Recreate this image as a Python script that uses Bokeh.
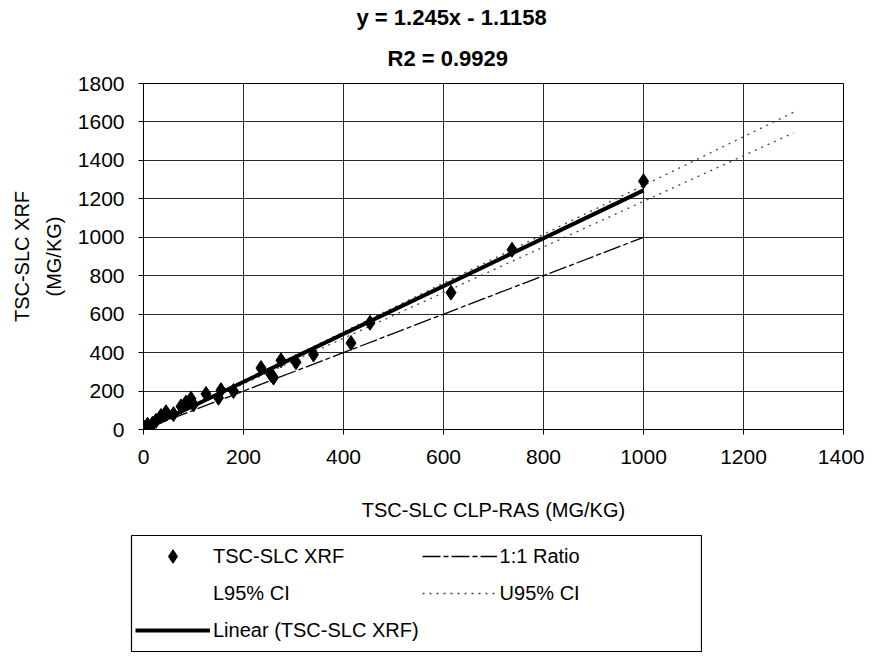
from bokeh.plotting import figure
from bokeh.layouts import column, row
from bokeh.models import Range1d, Title, Legend, LegendItem, FixedTicker, Spacer
from bokeh.embed import file_html
from bokeh.resources import INLINE

# ---- data ----
clp_ras = [3, 8, 12, 18, 25, 35, 45, 60, 75, 85, 95, 100, 125, 150, 155, 180,
           235, 255, 260, 275, 305, 340, 415, 453, 615, 737, 1000]
tsc_xrf = [10, 25, 5, 30, 45, 70, 90, 80, 120, 140, 160, 130, 185, 165, 205, 200,
           320, 285, 270, 360, 350, 390, 450, 555, 712, 935, 1292]
fit_slope = 1.245
fit_intercept = -1.1158
r2 = 0.9929
ratio_x = [0, 1000]
ratio_y = [0, 1000]
ci_x = [0, 1300]
upper_ci = [0, 1650]
lower_ci = [0, 1543]
x_ticks = [0, 200, 400, 600, 800, 1000, 1200, 1400]
y_ticks = [0, 200, 400, 600, 800, 1000, 1200, 1400, 1600, 1800]

FONT = "Liberation Sans"

RATIO_STYLE = dict(line_color="black", line_width=1.3, line_dash="18 3 5 3")
CI_STYLE = dict(line_color="#444444", line_width=1.3, line_dash="2 5")
FIT_STYLE = dict(line_color="black", line_width=4)
PTS_STYLE = dict(marker="diamond", size=15, fill_color="black", line_color="black")

# ---------------- main chart ----------------
p = figure(width=864, height=534,
           x_range=Range1d(0, 1400), y_range=Range1d(0, 1800),
           output_backend="svg", toolbar_location=None,
           min_border_left=143, min_border_right=21, min_border_top=75,
           min_border_bottom=105, background_fill_color="white",
           border_fill_color="white")

p.add_layout(Title(text="R2 = %.4f" % r2, align="left", text_font=FONT,
                   text_font_size="22px", text_font_style="bold",
                   text_color="black", offset=244, standoff=25), "above")
p.add_layout(Title(text="y = %.3fx - %.4f" % (fit_slope, -fit_intercept), align="left",
                   text_font=FONT, text_font_size="22px", text_font_style="bold",
                   text_color="black", offset=213, standoff=4), "above")

p.outline_line_color = "black"
p.outline_line_width = 1

for ax in (p.xaxis[0], p.yaxis[0]):
    ax.major_label_text_font = FONT
    ax.major_label_text_font_size = "21px"
    ax.major_label_text_color = "black"
    ax.axis_label_text_font = FONT
    ax.axis_label_text_font_size = "20px"
    ax.axis_label_text_font_style = "normal"
    ax.axis_label_text_color = "black"
    ax.axis_line_color = "black"
    ax.major_tick_line_color = "black"
    ax.minor_tick_line_color = None
    ax.major_tick_in = 0
    ax.major_tick_out = 5

p.xaxis.ticker = FixedTicker(ticks=x_ticks)
p.yaxis.ticker = FixedTicker(ticks=y_ticks)
p.xaxis.axis_label = "TSC-SLC CLP-RAS (MG/KG)"
p.yaxis.axis_label = "TSC-SLC XRF\n(MG/KG)"
p.yaxis.axis_label_text_line_height = 1.45
p.xaxis.major_label_standoff = 15
p.xaxis.axis_label_standoff = 32
p.yaxis.major_label_standoff = 14
p.yaxis.axis_label_standoff = 10

p.xgrid.grid_line_color = "#2a2a2a"
p.ygrid.grid_line_color = "#2a2a2a"
p.xgrid.grid_line_width = 1
p.ygrid.grid_line_width = 1

fit_x = [min(clp_ras), max(clp_ras)]
fit_y = [fit_slope * v + fit_intercept for v in fit_x]

p.line(ratio_x, ratio_y, **RATIO_STYLE)
p.line(ci_x, lower_ci, **CI_STYLE)
p.line(ci_x, upper_ci, **CI_STYLE)
p.line(fit_x, fit_y, **FIT_STYLE)
p.scatter(clp_ras, tsc_xrf, **PTS_STYLE)

# ---------------- legend panel (below the chart) ----------------
lg = figure(width=572, height=118, x_range=Range1d(-2, -1), y_range=Range1d(-2, -1),
            output_backend="svg", toolbar_location=None,
            x_axis_location=None, y_axis_location=None,
            min_border_left=1, min_border_right=1, min_border_top=1,
            min_border_bottom=0, background_fill_color="white",
            border_fill_color="white")
lg.grid.visible = False
lg.outline_line_color = "black"
lg.outline_line_width = 1.2

# same series as above; the ranges keep them out of view, only the legend shows
l_pts = lg.scatter(clp_ras, tsc_xrf, **PTS_STYLE)
l_ratio = lg.line(ratio_x, ratio_y, **RATIO_STYLE)
l_lci = lg.line(ci_x, lower_ci, line_alpha=0)
l_uci = lg.line(ci_x, upper_ci, **CI_STYLE)
l_fit = lg.line(fit_x, fit_y, **FIT_STYLE)

legend = Legend(items=[
    LegendItem(label="TSC-SLC XRF", renderers=[l_pts]),
    LegendItem(label="1:1 Ratio", renderers=[l_ratio]),
    LegendItem(label="L95% CI", renderers=[l_lci]),
    LegendItem(label="U95% CI", renderers=[l_uci]),
    LegendItem(label="Linear (TSC-SLC XRF)", renderers=[l_fit]),
], orientation="horizontal", ncols=2, location="top_left",
   label_text_font=FONT, label_text_font_size="20px", label_text_color="black",
   glyph_width=75, glyph_height=34, label_width=200, spacing=3,
   label_standoff=3, padding=4, margin=0,
   border_line_alpha=0, background_fill_alpha=0)
lg.add_layout(legend, "center")

layout = column(p, row(Spacer(width=130, height=118), lg, spacing=0), spacing=0)
open("out.html", "w").write(file_html(layout, INLINE))
